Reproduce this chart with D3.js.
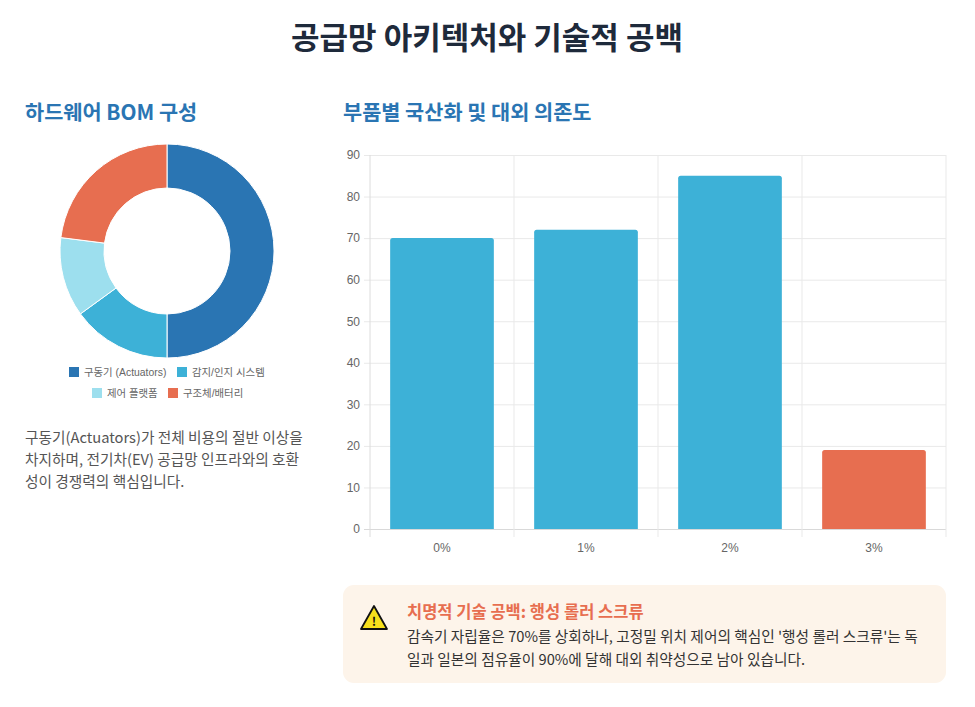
<!DOCTYPE html>
<html>
<head>
<meta charset="utf-8">
<script src="https://cdn.jsdelivr.net/npm/d3@7"></script>
<style>
  html, body { margin: 0; padding: 0; background: #fff; }
  svg { display: block; font-family: "Noto Sans CJK KR", sans-serif; }
  .tick text { font-family: "Liberation Sans", "Noto Sans CJK KR", sans-serif; }
</style>
</head>
<body>
<svg id="chart" width="975" height="707"></svg>
<script>
// BOM 구성 (도넛)
const bomLabels = ["구동기 (Actuators)", "감지/인지 시스템", "제어 플랫폼", "구조체/배터리"];
const bomValues = [50, 15, 12, 23];
const bomColors = ["#2a75b3", "#3db1d7", "#9ddfee", "#e76e50"];

// 국산화율 (막대)
const partLabels = ["0%", "1%", "2%", "3%"];
const partValues = [70, 72, 85, 19];
const yTicks = [0, 10, 20, 30, 40, 50, 60, 70, 80, 90];

const noteLines = [
  "구동기(Actuators)가 전체 비용의 절반 이상을",
  "차지하며, 전기차(EV) 공급망 인프라와의 호환",
  "성이 경쟁력의 핵심입니다."
];
const warnTitle = "치명적 기술 공백: 행성 롤러 스크류";
const warnLines = [
  "감속기 자립율은 70%를 상회하나, 고정밀 위치 제어의 핵심인 '행성 롤러 스크류'는 독",
  "일과 일본의 점유율이 90%에 달해 대외 취약성으로 남아 있습니다."
];

const svg = d3.select("#chart");

// 제목
svg.append("text")
  .attr("x", 487).attr("y", 49)
  .attr("text-anchor", "middle")
  .attr("font-size", 31).attr("font-weight", 700)
  .attr("fill", "#1e2a3b")
  .text("공급망 아키텍처와 기술적 공백");

svg.append("text")
  .attr("x", 25).attr("y", 119.5)
  .attr("font-size", 20.8).attr("font-weight", 700)
  .attr("fill", "#2a75b3")
  .text("하드웨어 BOM 구성");

svg.append("text")
  .attr("x", 343).attr("y", 119.5)
  .attr("font-size", 20.8).attr("font-weight", 700)
  .attr("fill", "#2a75b3")
  .text("부품별 국산화 및 대외 의존도");

// ---- 도넛
const pie = d3.pie().sort(null).value(d => d)(bomValues);
const arc = d3.arc().innerRadius(63).outerRadius(107);

const donut = svg.append("g").attr("transform", "translate(167,251)");
donut.selectAll("path")
  .data(pie)
  .join("path")
  .attr("d", arc)
  .attr("fill", (d, i) => bomColors[i])
  .attr("stroke", "#fff")
  .attr("stroke-width", 1);

// 범례 (두 줄)
const legendRows = [[0, 1], [2, 3]];
const legendPos = [[69, 177], [92, 168]];
legendRows.forEach((row, r) => {
  row.forEach((idx, k) => {
    const g = svg.append("g")
      .attr("transform", `translate(${legendPos[r][k]},${372 + r * 21})`);
    g.append("rect")
      .attr("x", 0).attr("y", -5)
      .attr("width", 10).attr("height", 10)
      .attr("fill", bomColors[idx]);
    g.append("text")
      .attr("x", 15).attr("y", 3.5)
      .attr("font-size", 10.4)
      .attr("font-family", "'Liberation Sans', 'Noto Sans CJK KR', sans-serif")
      .attr("fill", "#666")
      .text(bomLabels[idx]);
  });
});

svg.append("g").selectAll("text")
  .data(noteLines)
  .join("text")
  .attr("x", 25)
  .attr("y", (d, i) => 442.5 + i * 22)
  .attr("font-size", 14.7)
  .attr("fill", "#555")
  .text(d => d);

// ---- 막대
const x = d3.scaleBand()
  .domain(partLabels)
  .range([370, 946])
  .paddingInner(0.28)
  .paddingOuter(0.14);
const y = d3.scaleLinear().domain([0, 90]).range([529, 155]);
const step = x.step();

// 가로 격자 + y축 눈금
const yAxis = svg.append("g")
  .attr("transform", "translate(370,0)")
  .call(d3.axisLeft(y).tickValues(yTicks).tickSize(-576).tickPadding(10));
yAxis.select(".domain").remove();
yAxis.selectAll(".tick line")
  .attr("x1", -6)
  .attr("stroke", (d) => d === 0 ? "#d9d9d9" : "#e9e9e9");
yAxis.selectAll(".tick text")
  .attr("font-size", 12).attr("fill", "#666");

// 세로 격자
const vLines = partLabels.map(d => x(d) - step * 0.14).concat([946]);
svg.append("g").selectAll("line")
  .data(vLines)
  .join("line")
  .attr("x1", d => d).attr("x2", d => d)
  .attr("y1", 155).attr("y2", 537)
  .attr("stroke", (d, i) => i === 0 ? "#dcdcdc" : "#e9e9e9");

// 막대
const barPath = (x0, y0, w, h, r) =>
  `M${x0},${y0 + h}V${y0 + r}Q${x0},${y0} ${x0 + r},${y0}H${x0 + w - r}Q${x0 + w},${y0} ${x0 + w},${y0 + r}V${y0 + h}Z`;
svg.append("g").selectAll("path")
  .data(partValues)
  .join("path")
  .attr("d", (d, i) => barPath(x(partLabels[i]), y(d), x.bandwidth(), y(0) - y(d), 2.5))
  .attr("fill", (d, i) => i === 3 ? "#e76e50" : "#3db1d7");

// x축 라벨
const xAxis = svg.append("g")
  .attr("transform", "translate(0,529)")
  .call(d3.axisBottom(x).tickSize(0).tickPadding(14));
xAxis.select(".domain").remove();
xAxis.selectAll(".tick text")
  .attr("font-size", 12).attr("fill", "#666");

// ---- 경고 박스
svg.append("rect")
  .attr("x", 343).attr("y", 585)
  .attr("width", 603).attr("height", 98)
  .attr("rx", 11)
  .attr("fill", "#fdf4ea");

svg.append("path")
  .attr("d", "M374,606L387,629H361Z")
  .attr("fill", "#f7e01c")
  .attr("stroke", "#111")
  .attr("stroke-width", 1.8)
  .attr("stroke-linejoin", "round");
svg.append("text")
  .attr("x", 374).attr("y", 626)
  .attr("text-anchor", "middle")
  .attr("font-size", 12).attr("font-weight", 700)
  .attr("fill", "#111")
  .text("!");

svg.append("text")
  .attr("x", 407).attr("y", 617.5)
  .attr("font-size", 16.5).attr("font-weight", 700)
  .attr("fill", "#e76e50")
  .text(warnTitle);

svg.append("g").selectAll("text")
  .data(warnLines)
  .join("text")
  .attr("x", 407)
  .attr("y", (d, i) => 641.5 + i * 23)
  .attr("font-size", 14.7)
  .attr("fill", "#333")
  .text(d => d);
</script>
</body>
</html>
